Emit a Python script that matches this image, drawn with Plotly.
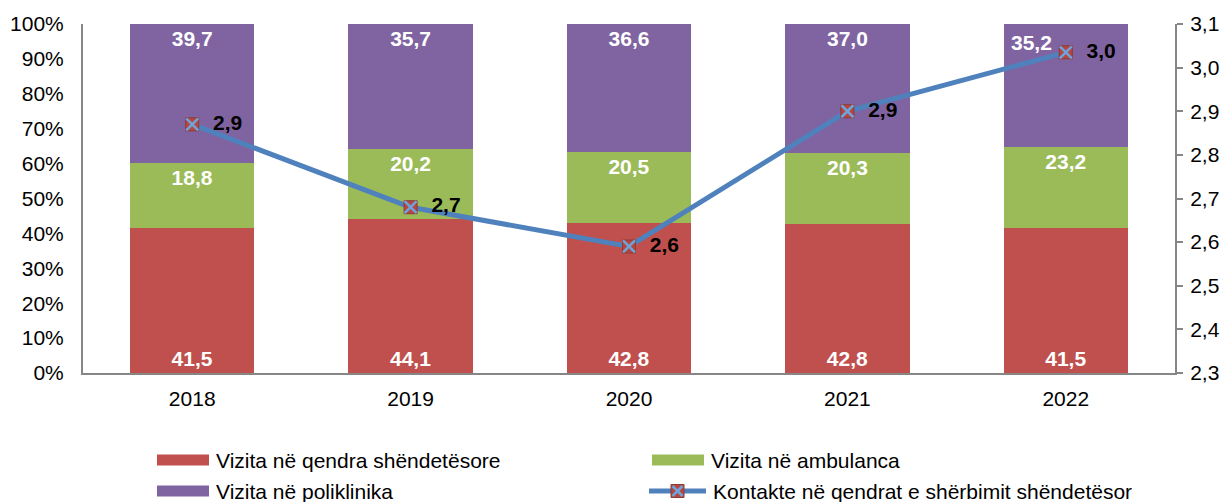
import plotly.graph_objects as go

years = ["2018", "2019", "2020", "2021", "2022"]
qendra = [41.5, 44.1, 42.8, 42.8, 41.5]
ambulanca = [18.8, 20.2, 20.5, 20.3, 23.2]
poliklinika = [39.7, 35.7, 36.6, 37.0, 35.2]
kontakte = [2.87, 2.68, 2.59, 2.90, 3.035]

names = ["Vizita në qendra shëndetësore", "Vizita në ambulanca",
         "Vizita në poliklinika", "Kontakte në qendrat e shërbimit shëndetësor"]

RED = "#C0504D"
GREEN = "#9BBB59"
PURPLE = "#8064A2"
BLUE = "#4F81BD"
AX = "#868686"
FONT = "Liberation Sans, Arial, sans-serif"
FS = 21

W, H = 1227, 502
L, R, T, B = 83, 52, 24, 129
PW, PH = W - L - R, H - T - B

def fmt(v):
    return f"{v:.1f}".replace(".", ",")

fig = go.Figure()
for vals, col, name, anchor in [(qendra, RED, names[0], "start"),
                                (ambulanca, GREEN, names[1], "end"),
                                (poliklinika, PURPLE, names[2], "end")]:
    txt = [fmt(v) for v in vals]
    if vals is poliklinika:
        txt[-1] = ""  # last label shifted left (placed as annotation below)
    fig.add_trace(go.Bar(
        x=years, y=vals, name=name, marker=dict(color=col, line=dict(width=0)),
        text=txt, textposition="inside", insidetextanchor=anchor,
        textfont=dict(family=FONT, size=FS, color="white", weight="bold"),
        showlegend=False, cliponaxis=False))

# shifted label for last purple segment (category index of the last year)
fig.add_annotation(x=len(years) - 1, y=100, xref="x", yref="y", text=fmt(poliklinika[-1]),
                   showarrow=False, xanchor="center", yanchor="top", xshift=-34, yshift=-5,
                   font=dict(family=FONT, size=FS, color="white", weight="bold"))

fig.add_trace(go.Scatter(
    x=years, y=kontakte, yaxis="y2", mode="lines+markers+text", name=names[3],
    line=dict(color=BLUE, width=5),
    marker=dict(symbol="square", size=13, color="#B5473F", line=dict(color="#8E3A35", width=1)),
    text=["\u00a0\u00a0" + fmt(v) for v in kontakte], textposition="middle right",
    textfont=dict(family=FONT, size=FS, color="black", weight="bold"),
    showlegend=False, cliponaxis=False))
fig.add_trace(go.Scatter(
    x=years, y=kontakte, yaxis="y2", mode="markers",
    marker=dict(symbol="x-thin-open", size=12, color="#6FA3DC",
                line=dict(color="#6FA3DC", width=2.5)),
    showlegend=False, hoverinfo="skip", cliponaxis=False))

fig.update_layout(
    width=W, height=H, barmode="stack", barnorm="percent", bargap=0.43,
    separators=",.",
    margin=dict(l=L, r=R, t=T, b=B, autoexpand=False),
    paper_bgcolor="white", plot_bgcolor="white",
    font=dict(family=FONT, size=FS, color="black"),
    xaxis=dict(type="category", range=[-0.5, len(years) - 0.5], showline=True,
               linecolor=AX, linewidth=2, ticks="", showgrid=False,
               tickfont=dict(size=FS), ticklabelstandoff=6),
    yaxis=dict(range=[0, 100], dtick=10, ticksuffix="%", showline=True, linecolor=AX,
               linewidth=2, ticks="", showgrid=False, zeroline=False, tickfont=dict(size=FS),
               ticklabelstandoff=13),
    yaxis2=dict(overlaying="y", side="right", range=[2.3, 3.1], dtick=0.1, tickformat=".1f",
                showline=True, linecolor=AX, linewidth=2, ticks="outside", ticklen=6,
                tickcolor=AX, tickwidth=2, showgrid=False, zeroline=False,
                tickfont=dict(size=FS), ticklabelstandoff=3),
    showlegend=False,
)

# Custom legend (matches the wide Excel-style swatches)
def px_x(p):
    return (p - L) / PW

def px_y(p):
    return (H - B - p) / PH

legend_items = [
    (names[0], RED, 157, 209, 460, "bar"),
    (names[1], GREEN, 652, 704, 460, "bar"),
    (names[2], PURPLE, 157, 209, 491, "bar"),
    (names[3], BLUE, 649, 706, 491, "line"),
]
for name, col, x0, x1, yc, kind in legend_items:
    if kind == "bar":
        fig.add_shape(type="rect", xref="paper", yref="paper",
                      x0=px_x(x0), x1=px_x(x1), y0=px_y(yc - 5.5), y1=px_y(yc + 5.5),
                      fillcolor=col, line=dict(width=0))
    else:
        fig.add_shape(type="line", xref="paper", yref="paper",
                      x0=px_x(x0), x1=px_x(x1), y0=px_y(yc), y1=px_y(yc),
                      line=dict(color=col, width=5))
        xm = (x0 + x1) / 2
        fig.add_shape(type="rect", xref="paper", yref="paper",
                      x0=px_x(xm - 6.5), x1=px_x(xm + 6.5), y0=px_y(yc - 6.5), y1=px_y(yc + 6.5),
                      fillcolor="#B5473F", line=dict(color="#8E3A35", width=1))
        for a, b in [((-5, -5), (5, 5)), ((-5, 5), (5, -5))]:
            fig.add_shape(type="line", xref="paper", yref="paper",
                          x0=px_x(xm + a[0]), y0=px_y(yc + a[1]),
                          x1=px_x(xm + b[0]), y1=px_y(yc + b[1]),
                          line=dict(color="#6FA3DC", width=2.5))
    fig.add_annotation(text=name, xref="paper", yref="paper", x=px_x(x1 + 5), y=px_y(yc),
                       xanchor="left", yanchor="middle", showarrow=False,
                       font=dict(family=FONT, size=FS, color="black"))

fig.write_html("out.html", config={"displayModeBar": False},
               post_script="document.body.style.margin='0';document.body.style.overflow='hidden';")
